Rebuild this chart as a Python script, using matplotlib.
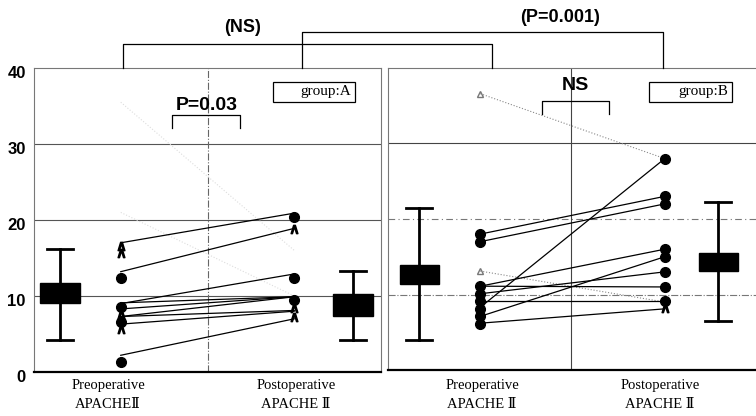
import matplotlib.pyplot as plt
from matplotlib.patches import Rectangle
from matplotlib.transforms import ScaledTranslation

# ---- data ----
# group A: paired pre/post APACHE II scores
a_pre = [17.0, 13.2, 9.0, 9.1, 8.3, 7.3, 7.3, 6.3, 2.2]
a_post = [20.9, 18.9, 12.9, 9.9, 9.9, 8.1, 9.9, 8.0, 7.0]
a_pre_dots = [12.4, 8.6, 6.6, 1.3]
a_pre_chev = [16.6, 15.6, 7.6, 5.6]
a_post_dots = [20.4, 12.4, 9.5]
a_post_chev = [18.8, 8.4, 7.2]
a_faint_pre = [35.5, 21.0]
a_faint_post = [16.0, 10.0]

# group B
b_pre = [18.0, 17.0, 8.3, 11.1, 7.1, 10.1, 11.1, 9.1, 6.2]
b_post = [23.0, 22.0, 28.0, 16.0, 15.0, 13.0, 11.0, 9.1, 8.1]
b_pre_dots = [18.0, 17.0, 11.1, 10.1, 9.1, 8.1, 7.1, 6.1]
b_post_dots = [28.0, 23.0, 22.0, 16.0, 15.0, 13.0, 11.0, 9.1]
b_post_chev = [8.2]
b_dotted_pre = [36.6, 13.1]
b_dotted_post = [28.0, 9.0]

# box summaries: (whislo, q1, q3, whishi)
a_box_pre = (4.2, 9.1, 11.7, 16.2)
a_box_post = (4.2, 7.4, 10.3, 13.3)
b_box_pre = (4.0, 11.4, 13.9, 21.4)
b_box_post = (6.5, 13.1, 15.5, 22.2)

yticks = [0, 10, 20, 30, 40]

SANS = ['Liberation Sans', 'DejaVu Sans']
SERIF = ['Liberation Serif', 'DejaVu Serif']

fig = plt.figure(figsize=(7.56, 4.16), dpi=100)
W, H = 756, 416


def px_axes(x0, x1, ytop, ybot):
    return fig.add_axes([x0 / W, 1 - ybot / H, (x1 - x0) / W, (ybot - ytop) / H])


def stat(b):
    lo, q1, q3, hi = b
    return dict(whislo=lo, q1=q1, q3=q3, whishi=hi, med=(q1 + q3) / 2, fliers=[])


def panel(ax, pre, post, boxes, boxpos, width, capw):
    ax.set_xlim(-0.5, 1.5)
    ax.set_ylim(0, 40)
    for b, p in zip(boxes, boxpos):
        ax.bxp([stat(b)], positions=[p], widths=width, patch_artist=True,
               showfliers=False, capwidths=[capw],
               boxprops=dict(facecolor='black', edgecolor='black', lw=1),
               whiskerprops=dict(color='black', lw=2),
               capprops=dict(color='black', lw=2),
               medianprops=dict(color='black', lw=0))
    for y0, y1 in zip(pre, post):
        ax.plot([0, 1], [y0, y1], color='black', lw=0.9, zorder=3)
    ax.set_xticks([])
    ax.set_yticks([])
    for s in ['top', 'right', 'left']:
        ax.spines[s].set_color('#777777')
        ax.spines[s].set_linewidth(0.8)
    ax.spines['bottom'].set_linewidth(1.6)


# left panel (group A)
axA = px_axes(34, 381, 68, 372)
panel(axA, a_pre, a_post, [a_box_pre, a_box_post], [-0.35, 1.34], 0.23, 0.15)
for g in [10, 20, 30]:
    axA.axhline(g, color='#555555', lw=0.8, zorder=0)
axA.axvline(0.5, color='#666666', lw=0.8, ls='-.', zorder=0)
for y0, y1 in zip(a_faint_pre, a_faint_post):
    axA.plot([0, 1], [y0, y1], color='#dddddd', lw=0.8, ls=':', zorder=1)
axA.plot([0] * len(a_pre_dots), a_pre_dots, 'o', color='black', ms=7, zorder=4)
axA.plot([1] * len(a_post_dots), a_post_dots, 'o', color='black', ms=7, zorder=4)
axA.plot([0] * len(a_pre_chev), a_pre_chev, marker='$\\wedge$', ls='none', color='black', ms=6, zorder=4)
axA.plot([1] * len(a_post_chev), a_post_chev, marker='$\\wedge$', ls='none', color='black', ms=6, zorder=4)
axA.set_yticks(yticks)
axA.set_yticklabels([str(t) for t in yticks], fontsize=12, fontweight='bold', family=SANS)
axA.tick_params(axis='y', length=0, pad=6)
shift = ScaledTranslation(0, -4 / 100, fig.dpi_scale_trans)
for lab in axA.get_yticklabels():
    lab.set_transform(lab.get_transform() + shift)

# right panel (group B)
axB = px_axes(388, 757, 68, 370)
panel(axB, b_pre, b_post, [b_box_pre, b_box_post], [-0.33, 1.29], 0.21, 0.14)
axB.axhline(30, color='#444444', lw=0.8, zorder=0)
axB.axhline(20, color='#777777', lw=0.8, ls=(0, (6, 3, 1, 3)), zorder=0)
axB.axhline(10, color='#777777', lw=0.8, ls='-.', zorder=0)
axB.axvline(0.49, color='#444444', lw=0.8, zorder=0)
for y0, y1 in zip(b_dotted_pre, b_dotted_post):
    axB.plot([0, 1], [y0, y1], color='#888888', lw=0.8, ls=':', zorder=2)
axB.plot([0] * len(b_dotted_pre), b_dotted_pre, '^', mfc='none', mec='#777777', ms=5, zorder=4)
axB.plot([0] * len(b_pre_dots), b_pre_dots, 'o', color='black', ms=7, zorder=4)
axB.plot([1] * len(b_post_dots), b_post_dots, 'o', color='black', ms=7, zorder=4)
axB.plot([1] * len(b_post_chev), b_post_chev, marker='$\\wedge$', ls='none', color='black', ms=6, zorder=4)

# overlay in pixel coordinates for brackets and labels
ov = fig.add_axes([0, 0, 1, 1], facecolor='none')
ov.set_xlim(0, W)
ov.set_ylim(H, 0)
ov.axis('off')

# between-group brackets
ov.plot([123, 123, 492, 492], [68, 44, 44, 68], color='black', lw=0.9)
ov.plot([302, 302, 663, 663], [68, 32, 32, 68], color='black', lw=0.9)
ov.text(243, 27, '(NS)', ha='center', va='center', fontsize=13, fontweight='bold', family=SANS)
ov.text(560, 17, '(P=0.001)', ha='center', va='center', fontsize=13, fontweight='bold', family=SANS)

# within-group brackets
ov.plot([172, 172, 240, 240], [128, 115, 115, 128], color='black', lw=0.9)
ov.text(207, 106, 'P=0.03', ha='center', va='center', fontsize=14, fontweight='bold', family=SANS)
ov.plot([542, 542, 609, 609], [114, 101, 101, 114], color='black', lw=0.9)
ov.text(575, 85, 'NS', ha='center', va='center', fontsize=14, fontweight='bold', family=SANS)

# group boxes
for x0, x1, lab in [(273, 355, 'group:A'), (649, 732, 'group:B')]:
    ov.add_patch(Rectangle((x0, 82), x1 - x0, 20, fill=False, ec='black', lw=0.9))
    ov.text(x1 - 4, 92, lab, ha='right', va='center', fontsize=11, family=SERIF)

# x category labels
for xc, l1, l2 in [(108, 'Preoperative', 'APACHEⅡ'), (296, 'Postoperative', 'APACHE Ⅱ'),
                   (482, 'Preoperative', 'APACHE Ⅱ'), (660, 'Postoperative', 'APACHE Ⅱ')]:
    ov.text(xc, 386, l1, ha='center', va='center', fontsize=10.5, family=SERIF)
    ov.text(xc, 405, l2, ha='center', va='center', fontsize=10.5, family=SERIF)

fig.savefig('out.png', dpi=100)
